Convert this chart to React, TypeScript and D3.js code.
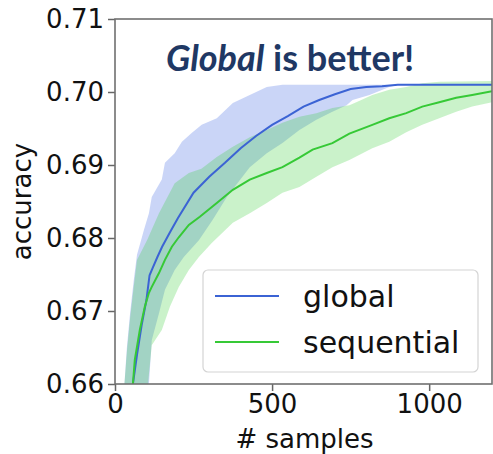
import React, { useRef, useEffect } from 'react';
import * as d3 from 'd3';

// mean curves
const globalX = [50, 57, 70, 85, 100, 110, 120, 135, 150, 175, 200, 250, 300, 350, 400, 450, 500, 550, 600, 650, 700, 750, 800, 850, 900, 1200];
const globalAcc = [0.6585, 0.66, 0.664, 0.6681, 0.6715, 0.6749, 0.6759, 0.6774, 0.6788, 0.6808, 0.6827, 0.6862, 0.6884, 0.6903, 0.6923, 0.694, 0.6955, 0.6967, 0.698, 0.6989, 0.6997, 0.7004, 0.7007, 0.7008, 0.701, 0.701];

const seqX = [45, 57, 63, 79, 95, 108, 117, 140, 159, 181, 203, 235, 270, 324, 375, 429, 483, 533, 587, 629, 692, 746, 819, 873, 927, 978, 1032, 1086, 1137, 1200];
const seqAcc = [0.6575, 0.66, 0.6633, 0.6674, 0.6706, 0.6725, 0.6733, 0.6752, 0.677, 0.6788, 0.6801, 0.6818, 0.6829, 0.6848, 0.6866, 0.688, 0.6889, 0.6897, 0.691, 0.6921, 0.693, 0.6943, 0.6955, 0.6964, 0.6971, 0.698, 0.6986, 0.6992, 0.6996, 0.7001];

// spread bands
const globalUpX = [20, 30, 38, 48, 60, 70, 83, 92, 108, 117, 149, 159, 190, 213, 244, 276, 324, 375, 429, 483, 533, 1200];
const globalUp = [0.655, 0.66, 0.6651, 0.6697, 0.6743, 0.6777, 0.6797, 0.6811, 0.6834, 0.6856, 0.688, 0.6903, 0.6916, 0.6932, 0.6944, 0.6955, 0.6964, 0.6985, 0.6996, 0.7007, 0.701, 0.701];
const globalLoX = [100, 108, 117, 140, 159, 190, 219, 267, 311, 356, 429, 483, 533, 587, 641, 692, 737, 756, 810, 873, 905, 1200];
const globalLo = [0.655, 0.66, 0.666, 0.6697, 0.6729, 0.6756, 0.6774, 0.6797, 0.6825, 0.6856, 0.6897, 0.6916, 0.693, 0.6948, 0.6962, 0.6973, 0.6982, 0.6989, 0.6996, 0.7007, 0.701, 0.701];

const seqUpX = [15, 30, 38, 48, 60, 70, 102, 140, 190, 235, 275, 324, 375, 429, 483, 533, 587, 641, 692, 746, 768, 819, 873, 927, 978, 1032, 1200];
const seqUp = [0.655, 0.66, 0.6645, 0.669, 0.6735, 0.677, 0.6797, 0.6834, 0.6875, 0.6889, 0.6895, 0.6911, 0.6925, 0.6938, 0.6948, 0.6958, 0.6966, 0.6971, 0.6978, 0.6982, 0.6986, 0.6996, 0.7003, 0.7007, 0.7012, 0.7014, 0.7015];
const seqLoX = [95, 105, 117, 149, 175, 203, 235, 267, 308, 375, 429, 483, 533, 587, 641, 692, 746, 819, 873, 927, 978, 1032, 1086, 1137, 1200];
const seqLo = [0.655, 0.66, 0.6653, 0.6674, 0.6706, 0.6733, 0.6756, 0.6774, 0.6793, 0.6821, 0.6834, 0.6848, 0.6862, 0.687, 0.6884, 0.6897, 0.6907, 0.6923, 0.6932, 0.6945, 0.6955, 0.6964, 0.6973, 0.698, 0.6986];

const yTicks = [0.66, 0.67, 0.68, 0.69, 0.7, 0.71];
const xTicks = [0, 500, 1000];
const seriesNames = ['global', 'sequential'];
const seriesColors = ['#3b63d4', '#36c936'];
const fillColors = ['rgba(65,105,225,0.28)', 'rgba(50,205,50,0.26)'];

const App = () => {
  const svgRef = useRef(null);

  useEffect(() => {
    const svg = d3.select(svgRef.current);
    svg.selectAll('*').remove();

    const width = 493;
    const height = 454;
    const margin = { top: 19, right: 1, bottom: 70, left: 115 };
    const font = 'DejaVu Sans';

    const x = d3.scaleLinear().domain([0, 1200]).range([margin.left, width - margin.right]);
    const y = d3.scaleLinear().domain([0.66, 0.71]).range([height - margin.bottom, margin.top]);

    svg.append('defs').append('clipPath').attr('id', 'plot-clip')
      .append('rect')
      .attr('x', x(0)).attr('y', y(0.71))
      .attr('width', x(1200) - x(0)).attr('height', y(0.66) - y(0.71));

    const plot = svg.append('g').attr('clip-path', 'url(#plot-clip)');

    const toPts = (xs, ys) => xs.map((v, i) => [x(v), y(ys[i])]);
    const line = d3.line();

    // bands: upper edge forward, lower edge back
    const bands = [
      [toPts(globalUpX, globalUp), toPts(globalLoX, globalLo)],
      [toPts(seqUpX, seqUp), toPts(seqLoX, seqLo)],
    ];
    bands.forEach(([up, lo], i) => {
      plot.append('path')
        .attr('d', line(up.concat(lo.slice().reverse())) + 'Z')
        .attr('fill', fillColors[i])
        .attr('stroke', 'none');
    });

    const means = [toPts(globalX, globalAcc), toPts(seqX, seqAcc)];
    means.forEach((pts, i) => {
      plot.append('path')
        .attr('d', line(pts))
        .attr('fill', 'none')
        .attr('stroke', seriesColors[i])
        .attr('stroke-width', 2);
    });

    // axes
    const yAxis = svg.append('g')
      .attr('transform', `translate(${margin.left},0)`)
      .call(d3.axisLeft(y).tickValues(yTicks).tickFormat(d3.format('.2f')).tickSize(7).tickPadding(4));
    const xAxis = svg.append('g')
      .attr('transform', `translate(0,${height - margin.bottom})`)
      .call(d3.axisBottom(x).tickValues(xTicks).tickFormat(d3.format('d')).tickSize(7).tickPadding(4));

    [yAxis, xAxis].forEach(g => {
      g.select('.domain').remove();
      g.selectAll('line').attr('stroke', '#666').attr('stroke-width', 1.5);
      g.selectAll('text').attr('font-family', font).attr('font-size', 26).attr('fill', '#111');
    });

    // spines
    svg.append('rect')
      .attr('x', x(0)).attr('y', y(0.71))
      .attr('width', x(1200) - x(0)).attr('height', y(0.66) - y(0.71))
      .attr('fill', 'none').attr('stroke', '#707070').attr('stroke-width', 1.6);

    svg.append('text')
      .attr('x', (x(0) + x(1200)) / 2 + 1).attr('y', 448)
      .attr('text-anchor', 'middle')
      .attr('font-family', font).attr('font-size', 26).attr('fill', '#111')
      .text('# samples');

    svg.append('text')
      .attr('transform', `translate(31,${(y(0.66) + y(0.71)) / 2}) rotate(-90)`)
      .attr('text-anchor', 'middle')
      .attr('font-family', font).attr('font-size', 26).attr('fill', '#111')
      .text('accuracy');

    // title
    const title = svg.append('text')
      .attr('x', 166).attr('y', 71)
      .attr('font-family', 'Lato').attr('font-weight', 'bold').attr('font-size', 36)
      .attr('fill', '#1f3864');
    title.append('tspan').attr('font-style', 'italic').text('Global');
    title.append('tspan').text(' is better!');

    // legend
    const legend = svg.append('g');
    legend.append('rect')
      .attr('x', 203).attr('y', 270).attr('width', 275).attr('height', 102)
      .attr('rx', 5)
      .attr('fill', 'rgba(255,255,255,0.8)')
      .attr('stroke', '#d4d4d4').attr('stroke-width', 1.2);
    seriesNames.forEach((name, i) => {
      const ly = 296 + i * 46;
      legend.append('line')
        .attr('x1', 215).attr('x2', 279).attr('y1', ly).attr('y2', ly)
        .attr('stroke', seriesColors[i]).attr('stroke-width', 2);
      legend.append('text')
        .attr('x', 303).attr('y', ly + 11)
        .attr('font-family', font).attr('font-size', 30).attr('fill', '#111')
        .text(name);
    });
  }, []);

  return (
    <svg ref={svgRef} width={493} height={454} style={{ position: 'absolute', left: 0, top: 0, background: '#fff' }} />
  );
};

export default App;
